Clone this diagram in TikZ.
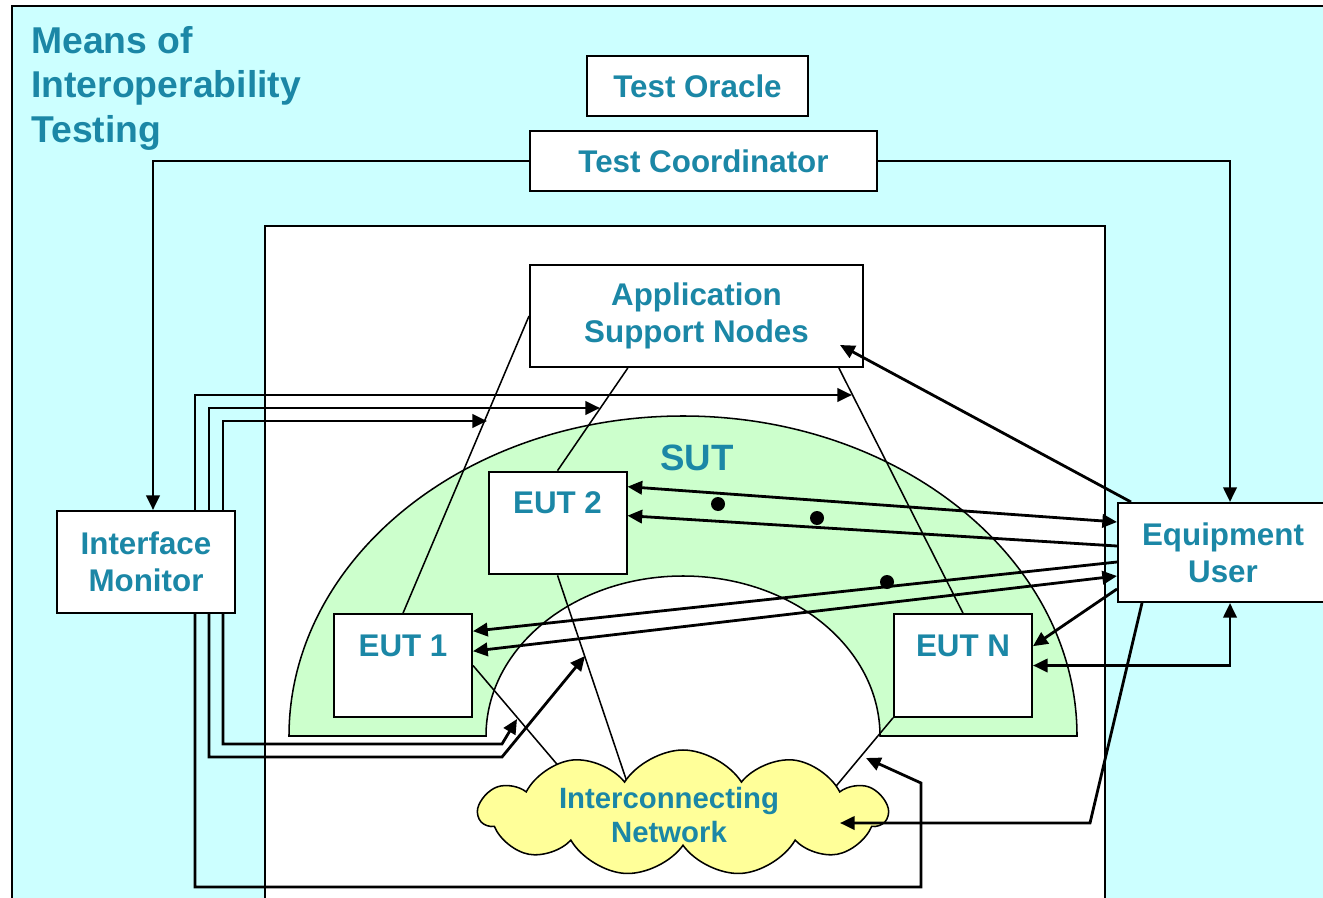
\documentclass[tikz,border=0pt]{standalone}
\usepackage{fontspec}
\setmainfont{Liberation Sans}
\usetikzlibrary{arrows.meta,shapes.symbols,calc}
\definecolor{tealtext}{RGB}{27,135,166}
\definecolor{cyanbg}{RGB}{204,255,255}
\definecolor{sutgreen}{RGB}{204,255,204}
\definecolor{cloudyellow}{RGB}{255,255,153}
\pgfdeclarelayer{backlayer}
\pgfdeclarelayer{linklayer}
\pgfsetlayers{backlayer,linklayer,main}
\begin{document}
\begin{tikzpicture}[x=0.75pt,y=-0.75pt,
  box/.style={draw=black, line width=1.5pt, fill=white, inner sep=0pt, text=tealtext,
    font=\fontsize{23.5}{28}\selectfont\bfseries, align=center},
  eutbox/.style={box, text depth=30pt, minimum width=103.5pt, minimum height=77pt},
  thinline/.style={line width=1.15pt},
  arr/.style={line width=2.1pt, -{Triangle[length=11pt,width=10pt]}},
  darr/.style={line width=2.1pt, {Triangle[length=11pt,width=10pt]}-{Triangle[length=11pt,width=10pt]}},
  dotnode/.style={circle, fill=black, inner sep=0pt, minimum size=10.5pt},
  lbl/.style={text=tealtext, inner sep=0pt, align=center}
]
\useasboundingbox (0,0) rectangle (1323,898);
\clip (0,0) rectangle (1323,898);
\begin{pgfonlayer}{backlayer}
\fill[white] (0,0) rectangle (1323,898);
% frames
\draw[line width=1.5pt, fill=cyanbg] (12,6) rectangle (1340,915);
\draw[line width=1.5pt, fill=white] (265,226) rectangle (1105,915);
% SUT arch
\draw[line width=1.15pt, fill=sutgreen] (289,736)
  arc[start angle=180, end angle=360, x radius=394, y radius=320] -- (880,736)
  arc[start angle=360, end angle=180, x radius=197, y radius=160] -- cycle;
\end{pgfonlayer}
\node[lbl, font=\fontsize{27.5}{33}\selectfont\bfseries] (sut) at (697,458) {SUT};
% title
\node[lbl, anchor=north west, align=left, font=\fontsize{28}{33.4}\selectfont\bfseries] (title) at (31,26) {Means of\\Interoperability\\Testing};
% boxes
\node[box, minimum width=165.75pt, minimum height=45pt] (oracle) at (697.5,86) {Test Oracle};
\node[box, minimum width=260.25pt, minimum height=45pt] (coord) at (703.5,161) {Test Coordinator};
\node[box, minimum width=249.75pt, minimum height=76.5pt] (asn) at (696.5,316) {Application\\Support Nodes};
\node[box, minimum width=133.5pt, minimum height=76.5pt] (im) at (146,562) {Interface\\Monitor};
\node[box, minimum width=157.5pt, minimum height=74.25pt] (eu) at (1223,552.5) {Equipment\\User};
\node[eutbox] (eut2) at (557.5,523) {EUT 2};
\node[eutbox] (eut1) at (403,665.5) {EUT 1};
\node[eutbox] (eutn) at (963,665.5) {EUT N};
% cloud
\node[cloud, cloud puffs=11, cloud puff arc=115, aspect=3.2, draw, line width=1.15pt,
  fill=cloudyellow, minimum width=306pt, minimum height=94.5pt, inner sep=0pt] (net) at (683,813) {};
\node[lbl, font=\fontsize{22}{25.5}\selectfont\bfseries] (netlabel) at (669,815) {Interconnecting\\Network};
% dots
\node[dotnode] (d1) at (718,504) {};
\node[dotnode] (d2) at (817,518) {};
\node[dotnode] (d3) at (887,582) {};
% coordinates
\coordinate (tIMa) at (852,395);
\coordinate (tIMb) at (600,408);
\coordinate (tIMc) at (487,421);
\coordinate (bIMa) at (517,719);
\coordinate (bIMb) at (585,656);
\coordinate (bIMc) at (866,758);
\coordinate (knA) at (502,744);
\coordinate (knB) at (502,757);
\coordinate (knC) at (921,887);
\coordinate (knC2) at (921,783);
\coordinate (asnTip) at (840,345);
\coordinate (euBend) at (1090,823);
\coordinate (netTip) at (840,823);
\coordinate (netIn1) at (567,776);
\coordinate (netIn2) at (628,785);
\coordinate (netInN) at (832,791);
% thin links (under the boxes and the cloud)
\begin{pgfonlayer}{linklayer}
\draw[thinline] (eut1.north) -- (asn.west);
\draw[thinline] (eut2.north) -- ($(asn.south west)!0.295!(asn.south east)$);
\draw[thinline] (eutn.north) -- ($(asn.south west)!0.925!(asn.south east)$);
\draw[thinline] (eut1.east) -- (netIn1);
\draw[thinline] (eut2.south) -- (netIn2);
\draw[thinline] (eutn.south west) -- (netInN);
\end{pgfonlayer}
% coordinator
\draw[arr] (coord.west) -| ([xshift=5.25pt]im.north);
\draw[arr] (coord.east) -| ([xshift=5.25pt]eu.north);
% interface monitor
\draw[arr] ([xshift=36.75pt]im.north) |- (tIMa);
\draw[arr] ([xshift=47.25pt]im.north) |- (tIMb);
\draw[arr] ([xshift=57.75pt]im.north) |- (tIMc);
\draw[arr] ([xshift=57.75pt]im.south) |- (knA) -- (bIMa);
\draw[arr] ([xshift=47.25pt]im.south) |- (knB) -- (bIMb);
\draw[arr] ([xshift=36.75pt]im.south) |- (knC) -- (knC2) -- (bIMc);
% equipment user
\draw[arr] ([xshift=10.5pt]eu.north west) -- (asnTip);
\draw[darr] ([yshift=-12pt]eut2.north east) -- ([yshift=-15pt]eu.north west);
\draw[arr] ([yshift=-33pt]eu.north west) -- ([yshift=-33.75pt]eut2.north east);
\draw[arr] ([yshift=-45pt]eu.north west) -- ([yshift=-13.5pt]eut1.north east);
\draw[darr] ([yshift=-28.5pt]eut1.north east) -- ([yshift=-55.5pt]eu.north west);
\draw[arr] ([yshift=-65.25pt]eu.north west) -- ([yshift=-24.75pt]eutn.north east);
\draw[darr] (eutn.east) -| ([xshift=5.25pt]eu.south);
\draw[arr] ([xshift=18.75pt]eu.south west) -- (euBend) -- (netTip);
\end{tikzpicture}
\end{document}
